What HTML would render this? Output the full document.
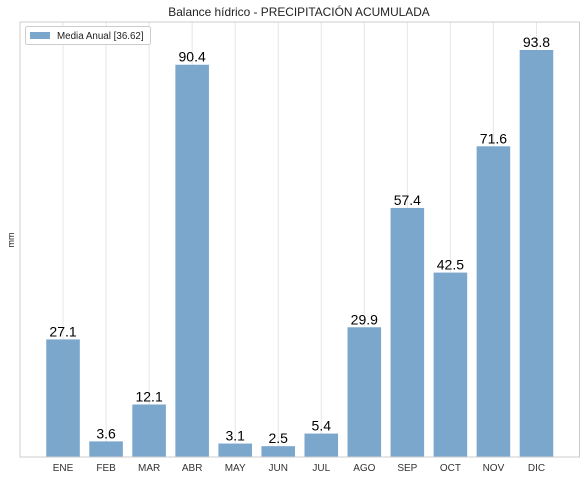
<!DOCTYPE html>
<html><head><meta charset="utf-8"><style>
body{margin:0;background:#fff;font-family:"Liberation Sans",Arial,sans-serif}
</style></head><body>
<svg id="chart" width="585" height="480" xmlns="http://www.w3.org/2000/svg">
<text x="299" y="16" text-anchor="middle" font-size="11.9" fill="#222">Balance hídrico - PRECIPITACIÓN ACUMULADA</text>
<text transform="translate(14,240) rotate(-90)" text-anchor="middle" font-size="9" fill="#222">mm</text>
<g id="grid"></g>
<g id="bars"></g>
<g id="labels"></g>
<rect x="20" y="22" width="559.5" height="435" fill="none" stroke="#ccc" stroke-width="1"/>
<g>
<rect x="25.5" y="26.5" width="125" height="18" rx="2" fill="#fff" stroke="#ccc"/>
<rect x="30" y="32" width="20" height="7" fill="#7ba7cc"/>
<text x="57" y="39" font-size="9.8" fill="#222">Media Anual [36.62]</text>
</g>
</svg>
<script>
const categories=["ENE","FEB","MAR","ABR","MAY","JUN","JUL","AGO","SEP","OCT","NOV","DIC"];
const values=[27.1,3.6,12.1,90.4,3.1,2.5,5.4,29.9,57.4,42.5,71.6,93.8];
const NS="http://www.w3.org/2000/svg";
const L=20,R=579.5,T=22,B=457,yMax=100.25;
const xS=i=>L+(i+1)*(R-L)/13;
const yS=v=>B-v*(B-T)/yMax;
const bw=0.78*(R-L)/13;
const g=document.getElementById('grid'),bg=document.getElementById('bars'),lg=document.getElementById('labels');
function mk(t,a){const e=document.createElementNS(NS,t);for(const k in a)e.setAttribute(k,a[k]);return e;}
categories.forEach((c,i)=>{
 const x=xS(i);
 const gl=mk('line',{x1:x,x2:x,y1:T,y2:B,stroke:'#e6e6e6','stroke-width':1});
 
 
 g.appendChild(gl);
 const r=mk('rect',{x:x-bw/2,y:yS(values[i]),width:bw,height:B-yS(values[i]),fill:'#7ba7cc'});
 
 
 bg.appendChild(r);
 const v=mk('text',{x:x,y:yS(values[i])-3,'text-anchor':'middle','font-size':14,fill:'#000'});
 v.textContent=values[i].toFixed(1);
 
 
 lg.appendChild(v);
 const t=mk('text',{x:x,y:471,'text-anchor':'middle','font-size':10,fill:'#333'});
 t.textContent=c;
 
 
 lg.appendChild(t);
});
</script>
</body></html>
